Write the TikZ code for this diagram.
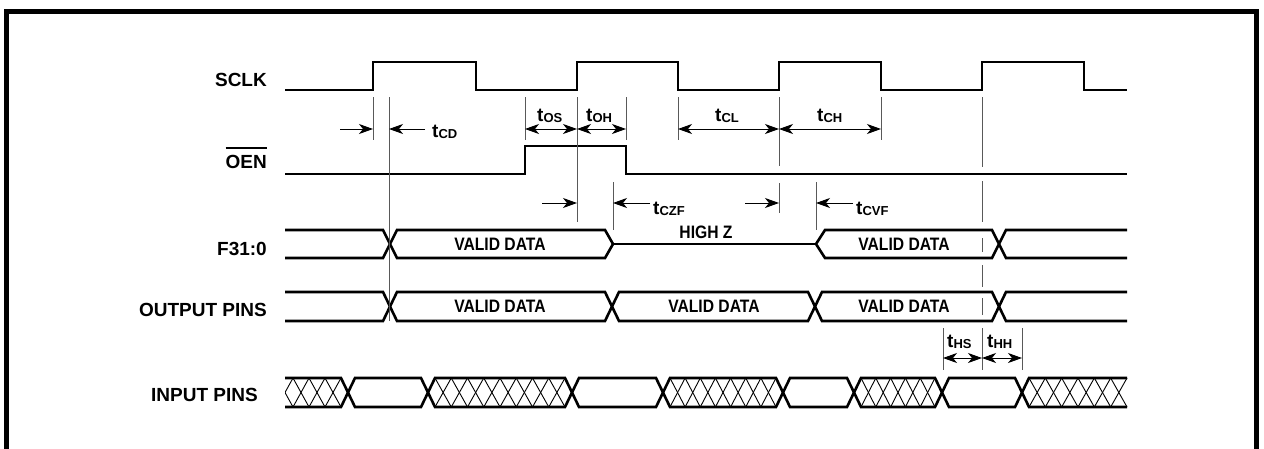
\documentclass[tikz,border=0pt]{standalone}
\usepackage{fontspec}
\setmainfont{Liberation Sans}
\newfontfamily\condfont[FakeStretch=0.87]{Liberation Sans}
\usetikzlibrary{arrows.meta}
\newsavebox\ovbox
\newcommand\ovl[1]{\sbox\ovbox{#1}\rlap{\raisebox{\dimexpr\ht\ovbox+6pt\relax}{\rule{\wd\ovbox}{1.6pt}}}\usebox\ovbox}
\newcommand\tsub[1]{t\raisebox{-1pt}{\fontsize{13}{15}\selectfont #1}}
\begin{document}
\begin{tikzpicture}[x=1pt,y=-1pt,
  wave/.style={line width=2.6pt, line join=miter},
  guide/.style={line width=0.9pt, black!65},
  hatch/.style={line width=0.9pt},
  dimarr/.style={line width=0.9pt, -{Stealth[length=14pt,width=10pt,inset=4pt]}},
  dimboth/.style={line width=0.9pt, {Stealth[length=14pt,width=10pt,inset=4pt]}-{Stealth[length=14pt,width=10pt,inset=4pt]}},
  sig/.style={font=\fontsize{19}{22}\selectfont\bfseries, inner sep=0pt},
  dat/.style={font=\condfont\fontsize{18}{20}\selectfont\bfseries, inner sep=0pt},
  tlab/.style={font=\fontsize{19}{22}\selectfont\bfseries, inner sep=0pt, anchor=base west}]
\useasboundingbox (0,0) rectangle (1264,448);
% frame
\draw[line width=5pt] (6.5,452) -- (6.5,11) -- (1256.5,11) -- (1256.5,452);

% signal names
\node[sig, anchor=base east] (lsclk) at (267,86) {SCLK};
\node[sig, anchor=base east] (loen) at (267,168) {\ovl{OEN}};
\node[sig, anchor=base east] (lf) at (267,255) {F31:0};
\node[sig, anchor=base east] (lout) at (267,316) {OUTPUT PINS};
\node[sig, anchor=base east] (lin) at (258,401) {INPUT PINS};

% SCLK
\draw[wave] (285,90) -- (373,90) -- (373,62) -- (476,62) -- (476,90) -- (577,90) -- (577,62) -- (678,62) -- (678,90) -- (779,90) -- (779,62) -- (881,62) -- (881,90) -- (982,90) -- (982,62) -- (1084,62) -- (1084,90) -- (1127,90);
% OEN
\draw[wave] (285,174) -- (525,174) -- (525,146) -- (626,146) -- (626,174) -- (1127,174);
% F31:0
\draw[wave] (285,230) -- (383,230) -- (397,258) -- (605,258) -- (613,244) -- (605,230) -- (397,230) -- (383,258) -- (285,258);
\draw[wave] (613,244) -- (816,244);
\draw[wave] (1127,258) -- (1006,258) -- (992,230) -- (825,230) -- (816,244) -- (825,258) -- (992,258) -- (1006,230) -- (1127,230);
\node[dat] (fv1) at (500,244.5) {VALID DATA};
\node[dat] (hz) at (706,232.5) {HIGH Z};
\node[dat] (fv2) at (904,244.5) {VALID DATA};
% OUTPUT PINS
\draw[wave] (285,292) -- (383,292) -- (397,321) -- (605,321) -- (619,292) -- (808,292) -- (822,321) -- (992,321) -- (1006,292) -- (1127,292);
\draw[wave] (285,321) -- (383,321) -- (397,292) -- (605,292) -- (619,321) -- (808,321) -- (822,292) -- (992,292) -- (1006,321) -- (1127,321);
\node[dat] (ov1) at (500,306.5) {VALID DATA};
\node[dat] (ov2) at (714,306.5) {VALID DATA};
\node[dat] (ov3) at (904,306.5) {VALID DATA};
% INPUT PINS
\draw[wave] (285,378) -- (341,378) -- (355,407) -- (421,407) -- (435,378) -- (565,378) -- (579,407) -- (656,407) -- (670,378) -- (776,378) -- (790,407) -- (847,407) -- (861,378) -- (935,378) -- (949,407) -- (1015,407) -- (1029,378) -- (1127,378);
\draw[wave] (285,407) -- (341,407) -- (355,378) -- (421,378) -- (435,407) -- (565,407) -- (579,378) -- (656,378) -- (670,407) -- (776,407) -- (790,378) -- (847,378) -- (861,407) -- (935,407) -- (949,378) -- (1015,378) -- (1029,407) -- (1127,407);
\begin{scope}
  \clip (285,370) rectangle (341,415);
  \foreach \k in {0,1,2,3}{
    \draw[hatch] ({341-16*(\k+1)},378) -- ({341-16*\k},407);
    \draw[hatch] ({341-16*(\k+1)},407) -- ({341-16*\k},378);
  }
\end{scope}
\foreach \a/\b/\n in {435/565/8, 670/776/7, 861/935/5, 1029/1127/6}{
  \pgfmathsetmacro\hp{(\b-\a)/\n}
  \foreach \i in {1,...,\n}{
    \draw[hatch] ({\a+(\i-1)*\hp},378) -- ({\a+\i*\hp},407);
    \draw[hatch] ({\a+(\i-1)*\hp},407) -- ({\a+\i*\hp},378);
  }
}

% guide lines
\draw[guide] (373,97) -- (373,140);
\draw[guide] (389,97) -- (389,321);
\draw[guide] (525,97) -- (525,140);
\draw[guide] (577,97) -- (577,222);
\draw[guide] (626,97) -- (626,140);
\draw[guide] (678,97) -- (678,140);
\draw[guide] (779,97) -- (779,166) (779,183) -- (779,213);
\draw[guide] (881,97) -- (881,140);
\draw[guide] (613,182) -- (613,230);
\draw[guide] (816,182) -- (816,230);
\draw[guide] (982,97) -- (982,167) (982,181) -- (982,222) (982,238) -- (982,252) (982,265) -- (982,287) (982,298) -- (982,315) (982,328) -- (982,370);
\draw[guide] (943,328) -- (943,370);
\draw[guide] (1022,328) -- (1022,370);

% coordinates for dimension arrows
\coordinate (cd1) at (340,129); \coordinate (cd2) at (373,129);
\coordinate (cd3) at (425,129); \coordinate (cd4) at (389,129);
\coordinate (os1) at (525,129); \coordinate (os2) at (577,129); \coordinate (oh2) at (626,129);
\coordinate (cl1) at (678,129); \coordinate (cl2) at (779,129); \coordinate (ch2) at (881,129);
\coordinate (z1) at (542,203); \coordinate (z2) at (577,203);
\coordinate (z3) at (650,203); \coordinate (z4) at (613,203);
\coordinate (z5) at (745,203); \coordinate (z6) at (779,203);
\coordinate (v1) at (853,203); \coordinate (v2) at (816,203);
\coordinate (hs1) at (943,358); \coordinate (hs2) at (982,358); \coordinate (hh2) at (1022,358);

\draw[dimarr] (cd1) -- (cd2);
\draw[dimarr] (cd3) -- (cd4);
\draw[dimboth] (os1) -- (os2);
\draw[dimboth] (os2) -- (oh2);
\draw[dimboth] (cl1) -- (cl2);
\draw[dimboth] (cl2) -- (ch2);
\draw[dimarr] (z1) -- (z2);
\draw[dimarr] (z3) -- (z4);
\draw[dimarr] (z5) -- (z6);
\draw[dimarr] (v1) -- (v2);
\draw[dimboth] (hs1) -- (hs2);
\draw[dimboth] (hs2) -- (hh2);

% timing labels
\node[tlab] (tcd) at (432,137) {\tsub{CD}};
\node[tlab] (tos) at (537,121) {\tsub{OS}};
\node[tlab] (toh) at (586,121) {\tsub{OH}};
\node[tlab] (tcl) at (715,121) {\tsub{CL}};
\node[tlab] (tch) at (817,121) {\tsub{CH}};
\node[tlab] (tczf) at (653,214) {\tsub{CZF}};
\node[tlab] (tcvf) at (856,214) {\tsub{CVF}};
\node[tlab] (ths) at (947,347) {\tsub{HS}};
\node[tlab] (thh) at (987,347) {\tsub{HH}};
\end{tikzpicture}
\end{document}
